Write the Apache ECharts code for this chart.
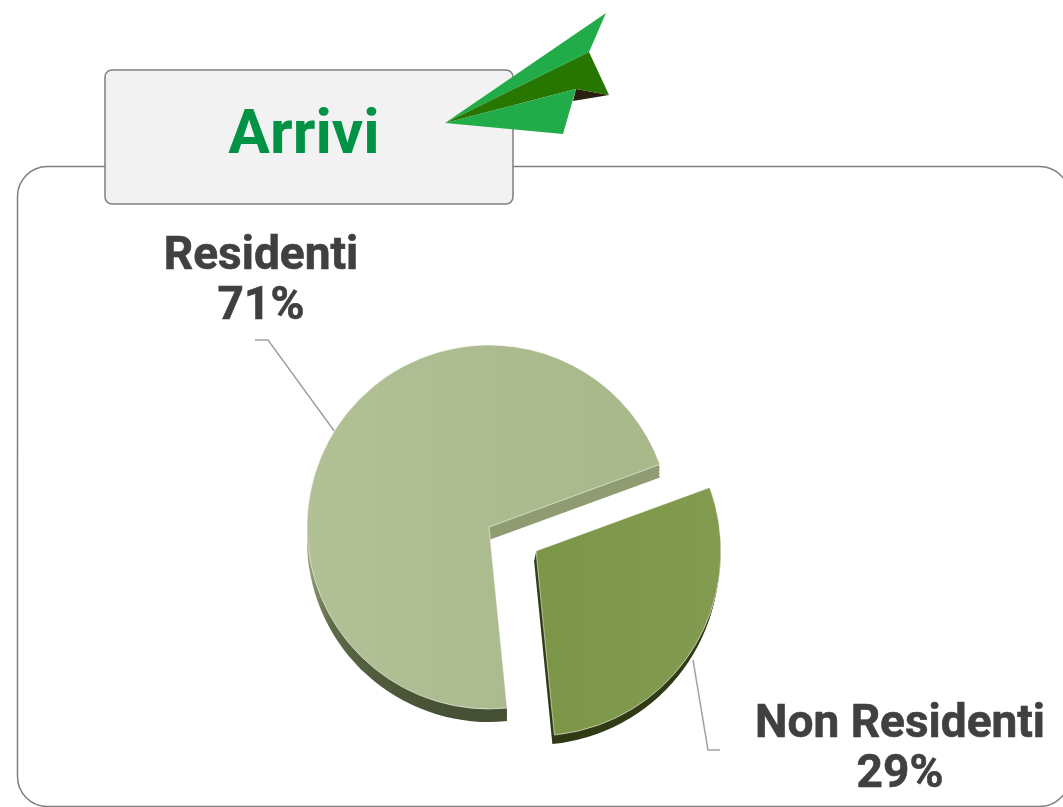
<!DOCTYPE html>
<html><head><meta charset="utf-8">
<style>html,body{margin:0;padding:0;background:#fff}#c{width:1063px;height:807px}</style>
<script src="https://cdn.jsdelivr.net/npm/echarts@6/dist/echarts.min.js"></script>
</head><body><div id="c"></div>
<script>
var categories = ['Residenti', 'Non Residenti'];
var values = [71, 29];
var titleText = 'Arrivi';
var FONT = 'Roboto';
var chart = echarts.init(document.getElementById('c'), null, {renderer:'canvas'});

function grad(a,b){ return new echarts.graphic.LinearGradient(0,0,1,0,[{offset:0,color:a},{offset:1,color:b}]); }
function wall(stops){ return new echarts.graphic.LinearGradient(0,0,0,1,stops); }
var look = [
  {center:[489,527], radius:182, depth:13, dx:0,
   top:grad('#b2c096','#a8b889'),
   wall:wall([{offset:0,color:'#8f9c72'},{offset:0.6,color:'#8f9c72'},{offset:0.75,color:'#5f6a48'},{offset:1,color:'#454f33'}]),
   labelPos:{x:261,y:282}, linePts:[[335,432],[268,340],[255,340]]},
  {center:[536,551], radius:185, depth:9, dx:-2,
   top:grad('#7c9648','#829b50'),
   wall:wall([{offset:0,color:'#333f18'},{offset:1,color:'#2f3a14'}]),
   labelPos:{x:900,y:750}, linePts:[[693,660],[708,750],[720,750]]}
];
function sliceData(active, color, border){
  return categories.map(function(n,i){
    var on = i===active;
    return {name:n, value:values[i],
      itemStyle: on ? {color:color, borderColor:border?'rgba(255,255,255,0.55)':'transparent', borderWidth:border?1:0}
                    : {color:'transparent', borderWidth:0},
      label:{show:on && border}, labelLine:{show:on && border}};
  });
}
var base = {type:'pie', startAngle:275.7, silent:true, animation:false, avoidLabelOverlap:false, z:5};
var series = [];
look.forEach(function(l, idx){
  for (var s=4; s>=1; s--) {
    var f = s/4;
    series.push(Object.assign({}, base, {radius:[0,l.radius],
      center:[l.center[0]+l.dx*f, l.center[1]+l.depth*f],
      label:{show:false}, labelLine:{show:false}, data:sliceData(idx,l.wall,false)}));
  }
  series.push(Object.assign({}, base, {radius:[0,l.radius], center:l.center,
    data:sliceData(idx,l.top,true),
    label:{formatter:function(p){return p.name+'\n'+p.value+'%';}, fontFamily:FONT, fontWeight:700,
      fontSize:46, lineHeight:50, color:'#404040', align:'center', textBorderColor:'#404040', textBorderWidth:0.6},
    labelLine:{length:40, length2:14, smooth:false, lineStyle:{color:'#a0a0a0', width:1.5}},
    labelLayout:function(){
      return {x:l.labelPos.x, y:l.labelPos.y, align:'center', verticalAlign:'middle', labelLinePoints:l.linePts};
    }}));
});
function poly(pts,fill,z){ return {type:'polygon',shape:{points:pts},style:{fill:fill},z:z,silent:true}; }
chart.setOption({
  animation:false,
  backgroundColor:'#ffffff',
  series:series,
  graphic:{elements:[
    {type:'rect',shape:{x:17.5,y:166.5,width:1052,height:640,r:30},style:{fill:'#fff',stroke:'#7f7f7f',lineWidth:1.5},z:-2,silent:true},
    {type:'rect',shape:{x:105,y:70,width:408,height:134,r:7},style:{fill:'#f2f2f2',stroke:'#7f7f7f',lineWidth:1.5},z:1,silent:true},
    {type:'text',x:304,y:137,style:{text:titleText,fontFamily:FONT,fontWeight:700,fontSize:62,fill:'#009245',align:'center',verticalAlign:'middle'},z:2,silent:true},
    poly([[445,123],[606,13],[589,52]],'#22ac49',3),
    poly([[573,101],[576,89],[609,95]],'#2a1f12',3),
    poly([[445,123],[589,52],[609,95],[576,89]],'#277600',3),
    poly([[445,123],[576,89],[563,134]],'#22ac49',4)
  ]}
});
</script></body></html>
